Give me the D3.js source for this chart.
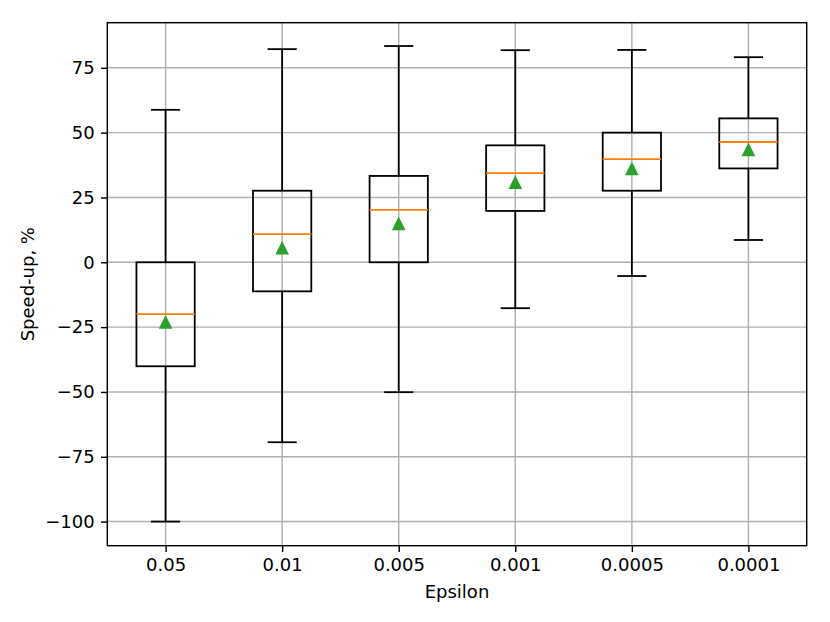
<!DOCTYPE html>
<html>
<head>
<meta charset="utf-8">
<script src="https://cdn.jsdelivr.net/npm/d3@7"></script>
<style>
  body { margin: 0; background: #fff; }
  text { font-family: "DejaVu Sans", sans-serif; }
</style>
</head>
<body>
<div id="chart-area"></div>
<script>
// Data
var epsilons = ["0.05", "0.01", "0.005", "0.001", "0.0005", "0.0001"];
var whiskerLow = [-100, -69.4, -50.1, -17.7, -5.3, 8.6];
var q1 = [-40.1, -11.2, 0, 19.8, 27.6, 36.2];
var medians = [-20.0, 10.9, 20.2, 34.4, 39.8, 46.4];
var q3 = [0, 27.6, 33.3, 45.1, 50.0, 55.5];
var whiskerHigh = [58.8, 82.2, 83.4, 81.8, 81.9, 79.1];
var means = [-23.2, 5.4, 14.8, 30.7, 36.0, 43.3];
var yTicks = [-100, -75, -50, -25, 0, 25, 50, 75];

var boxes = epsilons.map(function (e, i) {
	return {
		eps: e, lo: whiskerLow[i], q1: q1[i], med: medians[i],
		q3: q3[i], hi: whiskerHigh[i], mean: means[i]
	};
});

var margin = { left: 107.3, right: 23.3, top: 22.7, bottom: 76.3 };
var width = 830 - margin.left - margin.right,
	height = 622 - margin.top - margin.bottom;

var svg = d3.select("#chart-area")
	.append("svg")
	.attr("width", 830)
	.attr("height", 622);

var g = svg.append("g")
	.attr("transform", "translate(" + margin.left + "," + margin.top + ")");

// Scales
var x = d3.scalePoint()
	.domain(epsilons)
	.range([0, width])
	.padding(0.5);

var y = d3.scaleLinear()
	.domain([-109.3, 92.4])
	.range([height, 0]);

var step = x.step();
var boxW = step * 0.5;
var capW = boxW * 0.5;

// Grid
g.append("g").attr("class", "grid")
	.selectAll("line.h")
	.data(yTicks)
	.enter().append("line")
	.attr("x1", 0).attr("x2", width)
	.attr("y1", function (d) { return y(d); })
	.attr("y2", function (d) { return y(d); })
	.attr("stroke", "#b0b0b0").attr("stroke-width", 1.44);

g.select(".grid")
	.selectAll("line.v")
	.data(epsilons)
	.enter().append("line")
	.attr("y1", 0).attr("y2", height)
	.attr("x1", function (d) { return x(d); })
	.attr("x2", function (d) { return x(d); })
	.attr("stroke", "#b0b0b0").attr("stroke-width", 1.44);

// Boxes
var bx = g.append("g").attr("class", "boxes")
	.selectAll("g")
	.data(boxes)
	.enter().append("g");

// whiskers
bx.append("line")
	.attr("x1", function (d) { return x(d.eps); })
	.attr("x2", function (d) { return x(d.eps); })
	.attr("y1", function (d) { return y(d.q3); })
	.attr("y2", function (d) { return y(d.hi); })
	.attr("stroke", "#000").attr("stroke-width", 1.8);

bx.append("line")
	.attr("x1", function (d) { return x(d.eps); })
	.attr("x2", function (d) { return x(d.eps); })
	.attr("y1", function (d) { return y(d.q1); })
	.attr("y2", function (d) { return y(d.lo); })
	.attr("stroke", "#000").attr("stroke-width", 1.8);

// caps
["hi", "lo"].forEach(function (k) {
	bx.append("line")
		.attr("x1", function (d) { return x(d.eps) - capW / 2; })
		.attr("x2", function (d) { return x(d.eps) + capW / 2; })
		.attr("y1", function (d) { return y(d[k]); })
		.attr("y2", function (d) { return y(d[k]); })
		.attr("stroke", "#000").attr("stroke-width", 1.8);
});

// box
bx.append("rect")
	.attr("x", function (d) { return x(d.eps) - boxW / 2; })
	.attr("width", boxW)
	.attr("y", function (d) { return y(d.q3); })
	.attr("height", function (d) { return y(d.q1) - y(d.q3); })
	.attr("fill", "none")
	.attr("stroke", "#000").attr("stroke-width", 1.8);

// median
bx.append("line")
	.attr("x1", function (d) { return x(d.eps) - boxW / 2; })
	.attr("x2", function (d) { return x(d.eps) + boxW / 2; })
	.attr("y1", function (d) { return y(d.med); })
	.attr("y2", function (d) { return y(d.med); })
	.attr("stroke", "#ff7f0e").attr("stroke-width", 1.8);

// mean marker (triangle up)
var m = 5.4;
bx.append("path")
	.attr("transform", function (d) { return "translate(" + x(d.eps) + "," + y(d.mean) + ")"; })
	.attr("d", "M0," + (-m) + "L" + (-m) + "," + m + "L" + m + "," + m + "Z")
	.attr("fill", "#2ca02c")
	.attr("stroke", "#2ca02c").attr("stroke-width", 1.8);

// Axes
var xAxis = d3.axisBottom(x).tickSize(6.3).tickPadding(6.3);
var yAxis = d3.axisLeft(y).tickValues(yTicks).tickSize(6.3).tickPadding(6.3)
	.tickFormat(d3.format("d"));

var xg = g.append("g")
	.attr("transform", "translate(0," + height + ")")
	.call(xAxis);
var yg = g.append("g").call(yAxis);

[xg, yg].forEach(function (a) {
	a.select(".domain").remove();
	a.selectAll(".tick line").attr("stroke", "#000").attr("stroke-width", 1.44);
	a.selectAll(".tick text").attr("fill", "#000").style("font-size", "18px")
		.style("font-family", "'DejaVu Sans', sans-serif");
});

// Frame
g.append("rect")
	.attr("width", width).attr("height", height)
	.attr("fill", "none")
	.attr("stroke", "#000").attr("stroke-width", 1.44);

// Labels
g.append("text")
	.attr("x", width / 2)
	.attr("y", height + 52)
	.attr("text-anchor", "middle")
	.style("font-size", "18px")
	.text("Epsilon");

g.append("text")
	.attr("transform", "rotate(-90)")
	.attr("x", -height / 2)
	.attr("y", -73)
	.attr("text-anchor", "middle")
	.style("font-size", "18px")
	.text("Speed-up, %");
</script>
</body>
</html>
